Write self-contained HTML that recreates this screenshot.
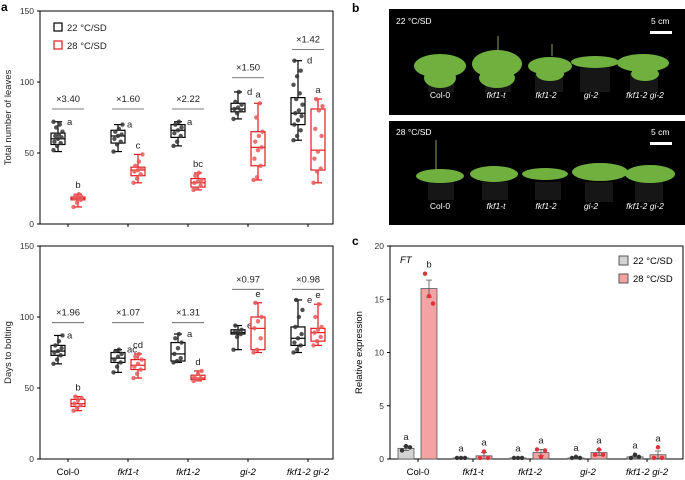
<!DOCTYPE html>
<html><head><meta charset="utf-8"><style>
body{margin:0;background:#fff;}
svg{display:block;font-family:"Liberation Sans",sans-serif;}
</style></head><body>
<svg id="fig" width="685" height="480" viewBox="0 0 685 480">
<g id="pa"></g>
<g id="pa2"></g>
<g id="pb">
 <text x="352" y="12" font-size="12" font-weight="bold">b</text>
 <rect x="389" y="9" width="296" height="106" fill="#000"/>
 <rect x="389" y="121" width="296" height="104" fill="#000"/>
 <g fill="#161616"><rect x="428" y="72" width="26" height="20"/><rect x="485" y="74" width="26" height="18"/><rect x="535" y="74" width="28" height="18"/><rect x="580" y="68" width="30" height="24"/><rect x="630" y="72" width="28" height="20"/>
  <rect x="428" y="182" width="26" height="18"/><rect x="482" y="182" width="26" height="18"/><rect x="535" y="182" width="26" height="18"/><rect x="585" y="182" width="28" height="20"/><rect x="635" y="182" width="28" height="20"/></g>
 <g fill="#6fb03e">
  <ellipse cx="440" cy="66" rx="26" ry="12"/><ellipse cx="440" cy="78" rx="16" ry="10"/>
  <ellipse cx="497" cy="64" rx="25" ry="14"/><ellipse cx="497" cy="78" rx="18" ry="10"/>
  <ellipse cx="550" cy="66" rx="22" ry="9"/><ellipse cx="550" cy="74" rx="14" ry="7"/>
  <ellipse cx="595" cy="62" rx="24" ry="6"/>
  <ellipse cx="643" cy="63" rx="26" ry="9"/><ellipse cx="645" cy="74" rx="14" ry="7"/>
  <ellipse cx="440" cy="176" rx="24" ry="7"/><ellipse cx="494" cy="174" rx="24" ry="8"/><ellipse cx="545" cy="174" rx="23" ry="6"/><ellipse cx="600" cy="172" rx="28" ry="9"/><ellipse cx="650" cy="174" rx="25" ry="9"/>
 </g>
 <g stroke="#8aa060" stroke-width="1"><line x1="498" y1="52" x2="498" y2="36"/><line x1="552" y1="56" x2="552" y2="44"/><line x1="436" y1="170" x2="436" y2="140"/></g>
 <g fill="#fff" font-size="8.5">
  <text x="396" y="24">22 °C/SD</text><text x="651" y="24">5 cm</text>
  <text x="396" y="135">28 °C/SD</text><text x="651" y="135">5 cm</text>
  <text x="440" y="98" text-anchor="middle">Col-0</text><text x="496" y="98" text-anchor="middle" font-style="italic">fkf1-t</text><text x="546" y="98" text-anchor="middle" font-style="italic">fkf1-2</text><text x="591" y="98" text-anchor="middle" font-style="italic">gi-2</text><text x="645" y="98" text-anchor="middle" font-style="italic">fkf1-2 gi-2</text>
  <text x="440" y="209" text-anchor="middle">Col-0</text><text x="496" y="209" text-anchor="middle" font-style="italic">fkf1-t</text><text x="546" y="209" text-anchor="middle" font-style="italic">fkf1-2</text><text x="591" y="209" text-anchor="middle" font-style="italic">gi-2</text><text x="645" y="209" text-anchor="middle" font-style="italic">fkf1-2 gi-2</text>
 </g>
 <rect x="650" y="31" width="22" height="3" fill="#fff"/><rect x="650" y="142" width="22" height="3" fill="#fff"/>
</g>
<g id="pc"></g>
</svg>
<script>
const NS="http://www.w3.org/2000/svg";
const categories=["Col-0","fkf1-t","fkf1-2","gi-2","fkf1-2 gi-2"];
const leaves22=[[51,56,60,64,72],[51,57,62,66,70],[55,61,66,70,72],[74,79,81,85,93],[59,70,78,89,115]];
const leaves28=[[12,17,18,19,21],[29,34,38,40,49],[24,26,29,32,36],[31,41,54,65,85],[29,38,52,81,88]];
const leavesDots22=[[52,55,57,58,60,61,62,63,65,68,70,72],[51,56,58,60,62,63,65,67,70],[55,58,62,64,66,68,70,72],[74,78,80,81,82,84,86,93],[59,62,66,70,73,76,78,80,84,88,92,98,104,108,115]];
const leavesDots28=[[12,15,17,18,18,19,20,21],[29,32,35,37,38,39,41,44,49],[24,25,27,29,30,31,34,36],[31,33,41,46,52,54,58,62,65,75,85],[29,37,39,46,51,62,67,80,83,88]];
const leavesLetters22=["a","a","a","d","d"];
const leavesLetters28=["b","c","bc","a","a"];
const leavesFold=["×3.40","×1.60","×2.22","×1.50","×1.42"];
const leavesFoldY=[81,81,81,103,123];
const days22=[[67,73,76,80,87],[61,68,71,75,77],[68,69,74,82,88],[77,88,89,91,94],[75,80,85,93,112]];
const days28=[[34,37,39,42,44],[57,63,66,70,74],[55,56,57,59,62],[75,77,92,100,110],[80,83,89,92,109]];
const daysDots22=[[67,70,73,75,76,78,80,83,87],[61,65,68,70,72,74,76,77],[68,69,71,74,78,82,85,88],[77,86,88,89,90,91,94],[75,77,80,82,85,88,93,100,105,112]];
const daysDots28=[[34,36,38,39,41,43,44],[57,60,63,65,67,70,72,74],[55,56,57,58,60,62],[75,77,85,92,97,100,110],[80,83,86,89,91,93,100,109]];
const daysLetters22=["a","ac","a","e","e"];
const daysLetters28=["b","cd","d","e","e"];
const daysFold=["×1.96","×1.07","×1.31","×0.97","×0.98"];
const daysFoldY=[96,96,96,119.5,119.5];
const ft22=[1.0,0.1,0.1,0.1,0.2];
const ft28=[16.0,0.3,0.6,0.6,0.4];
const ftErr22=[0.2,0.02,0.02,0.05,0.1];
const ftErr28=[0.8,0.3,0.3,0.25,0.35];
const ftPts22=[[0.8,1.2,1.1],[0.1,0.1,0.1],[0.1,0.1,0.1],[0.1,0.2,0.1],[0.1,0.4,0.2]];
const ftPts28=[[17.4,15.3,14.6],[0.1,0.7,0.1],[0.9,0.2,0.8],[0.4,0.9,0.4],[0.1,1.1,0.1]];
const ftLetters22=["a","a","a","a","a"];
const ftLetters28=["b","a","a","a","a"];

function el(p,t,a,txt){const e=document.createElementNS(NS,t);for(const k in a)e.setAttribute(k,a[k]);if(txt!==undefined)e.textContent=txt;p.appendChild(e);return e;}
const catX=i=>68+i*60;

function boxPanel(g,top,bottom,d22,d28,dots22,dots28,l22,l28,fold,foldY,ytitle,showX,letter){
  const y=v=>bottom-(v/150)*(bottom-top);
  el(g,"rect",{x:40,y:top,width:293,height:bottom-top,fill:"none",stroke:"#000","stroke-width":1});
  [0,50,100,150].forEach(v=>{el(g,"line",{x1:37,x2:40,y1:y(v),y2:y(v),stroke:"#000"});
    const t=el(g,"text",{x:34,y:y(v)+3,"font-size":8.5,"text-anchor":"end",fill:"#333"},v);
    
    });
  const yt=el(g,"text",{transform:`translate(11,${(top+bottom)/2}) rotate(-90)`,"font-size":9.5,"text-anchor":"middle",fill:"#222"},ytitle);
  
  
  if(letter){const lt=el(g,"text",{x:1,y:11,"font-size":12,"font-weight":"bold"},letter);
    
    }
  categories.forEach((c,i)=>{
    const cx=catX(i);
    el(g,"line",{x1:cx,x2:cx,y1:bottom,y2:bottom+3,stroke:"#000"});
    if(showX){const t=el(g,"text",{x:cx,y:bottom+16,"font-size":9.5,"text-anchor":"middle","font-style":i?"italic":"normal"},c);
      
      }
    [[d22,dots22,l22,-10,"#000","#333"],[d28,dots28,l28,10,"#e31a1c","#e8585a"]].forEach(([d,dt,lt,off,col,dc],s)=>{
      const bx=cx+off,q=d[i],bg=el(g,"g",{});
      
      
      el(bg,"line",{x1:bx,x2:bx,y1:y(q[0]),y2:y(q[4]),stroke:col,"stroke-width":1.2});
      el(bg,"line",{x1:bx-4,x2:bx+4,y1:y(q[0]),y2:y(q[0]),stroke:col,"stroke-width":1.2});
      el(bg,"line",{x1:bx-4,x2:bx+4,y1:y(q[4]),y2:y(q[4]),stroke:col,"stroke-width":1.2});
      el(bg,"rect",{x:bx-7,y:y(q[3]),width:14,height:y(q[1])-y(q[3]),fill:"#fff",stroke:col,"stroke-width":1.2});
      el(bg,"line",{x1:bx-7,x2:bx+7,y1:y(q[2]),y2:y(q[2]),stroke:col,"stroke-width":1.2});
      dt[i].forEach((v,k)=>{const p=el(bg,"circle",{cx:bx+((k*37)%11-5)*0.9,cy:y(v),r:2.2,fill:dc,opacity:0.85});
        
        });
      const t=el(g,"text",{x:s?bx:bx+9,y:s?y(q[4])-6:y(q[4])+3,"font-size":9.5,"text-anchor":s?"middle":"start",fill:"#222"},lt[i]);
      
      
    });
    el(g,"line",{x1:cx-16,x2:cx+16,y1:y(foldY[i]),y2:y(foldY[i]),stroke:"#555","stroke-width":0.8});
    const ft=el(g,"text",{x:cx,y:y(foldY[i])-7,"font-size":9.5,"text-anchor":"middle",fill:"#222"},fold[i]);
    
    
  });
}
const pa=document.getElementById("pa");
boxPanel(pa,11,224,leaves22,leaves28,leavesDots22,leavesDots28,leavesLetters22,leavesLetters28,leavesFold,leavesFoldY,"Total number of leaves",false,"a");
[[0,"#000","22 °C/SD"],[1,"#e31a1c","28 °C/SD"]].forEach(([k,c,t])=>{
  const lg=el(pa,"g",{});
  
  
  el(lg,"rect",{x:54,y:23+k*18,width:8,height:8,fill:"#fff",stroke:c,"stroke-width":1.2});
  el(lg,"text",{x:67,y:31+k*18,"font-size":9.5,fill:"#222"},t);
});
boxPanel(document.getElementById("pa2"),246,459,days22,days28,daysDots22,daysDots28,daysLetters22,daysLetters28,daysFold,daysFoldY,"Days to bolting",true,null);

(function(){
  const g=document.getElementById("pc"),top=246,bottom=459,L=390,R=683;
  const y=v=>bottom-(v/20)*(bottom-top);
  const cxs=i=>[418,473,530,588,647][i];
  const lt=el(g,"text",{x:352,y:245,"font-size":12,"font-weight":"bold"},"c");
  
  
  el(g,"rect",{x:L,y:top,width:R-L,height:bottom-top,fill:"none",stroke:"#000"});
  [0,5,10,15,20].forEach(v=>{el(g,"line",{x1:L-3,x2:L,y1:y(v),y2:y(v),stroke:"#000"});
    const t=el(g,"text",{x:L-6,y:y(v)+3,"font-size":8.5,"text-anchor":"end",fill:"#333"},v);
    
    });
  const yt=el(g,"text",{transform:`translate(362,${(top+bottom)/2}) rotate(-90)`,"font-size":9.5,"text-anchor":"middle"},"Relative expression");
  
  
  el(g,"text",{x:400,y:263,"font-size":9.5,"font-style":"italic"},"FT");
  categories.forEach((c,i)=>{
    const cx=cxs(i);
    el(g,"line",{x1:cx,x2:cx,y1:bottom,y2:bottom+3,stroke:"#000"});
    const t=el(g,"text",{x:cx,y:bottom+16,"font-size":9.5,"text-anchor":"middle","font-style":i?"italic":"normal"},c);
    
    
    [[ft22,ftErr22,ftPts22,ftLetters22,-12,"#d3d3d3","#333"],[ft28,ftErr28,ftPts28,ftLetters28,11,"#f4a3a3","#e0303a"]].forEach(([v,e,p,l,off,fc,pc],s)=>{
      const bx=cx+off;
      const b=el(g,"rect",{x:bx-8,y:y(v[i]),width:16,height:bottom-y(v[i]),fill:fc,stroke:"#555","stroke-width":0.8});
      
      
      el(g,"line",{x1:bx,x2:bx,y1:y(v[i]-e[i]),y2:y(v[i]+e[i]),stroke:"#555","stroke-width":0.8});
      el(g,"line",{x1:bx-3,x2:bx+3,y1:y(v[i]+e[i]),y2:y(v[i]+e[i]),stroke:"#555","stroke-width":0.8});
      el(g,"line",{x1:bx-3,x2:bx+3,y1:y(v[i]-e[i]),y2:y(v[i]-e[i]),stroke:"#555","stroke-width":0.8});
      p[i].forEach((pv,k)=>{const d=el(g,"circle",{cx:bx+(k-1)*4,cy:y(pv),r:2.2,fill:pc});
        
        });
      const top2=Math.max(v[i]+e[i],...p[i]);
      const lt2=el(g,"text",{x:bx,y:y(top2)-6,"font-size":9.5,"text-anchor":"middle",fill:"#222"},l[i]);
      
      
    });
  });
  [[0,"#d3d3d3","22 °C/SD"],[1,"#f4a3a3","28 °C/SD"]].forEach(([k,c,t])=>{
    const lg=el(g,"g",{});
    
    
    el(lg,"rect",{x:619,y:256+k*18,width:9,height:9,fill:c,stroke:"#555"});
    el(lg,"text",{x:633,y:264+k*18,"font-size":9.5},t);
  });
})();
</script>
</body></html>
